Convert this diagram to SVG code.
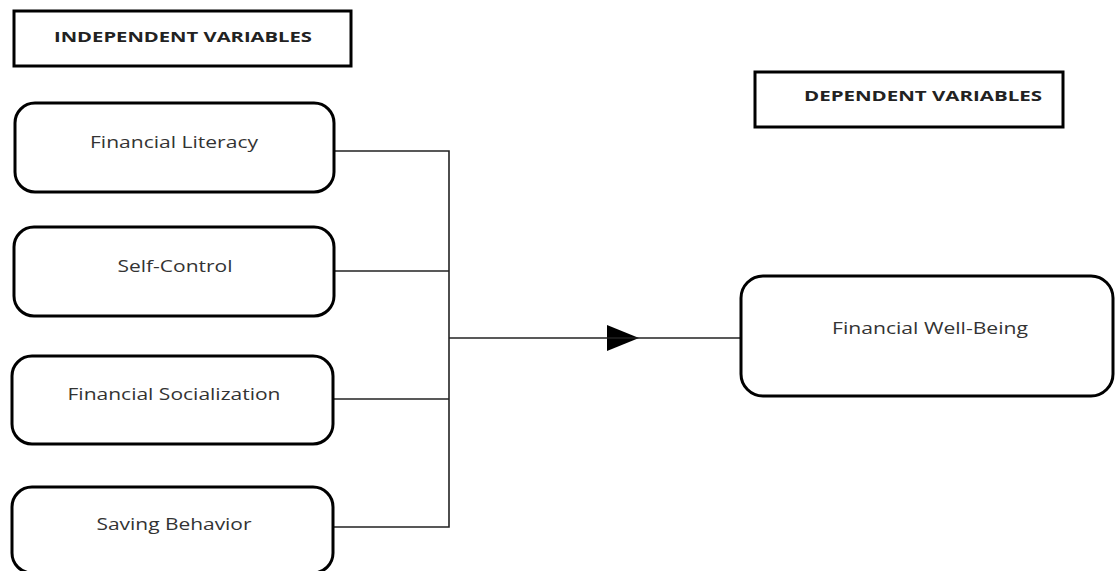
<svg xmlns="http://www.w3.org/2000/svg" width="1115" height="571" viewBox="0 0 1115 571">
<style>
.hdr{fill:#fff;stroke:#000;stroke-width:3}
.node{fill:#fff;stroke:#000;stroke-width:3}
.t{font-family:"Open Sans","Liberation Sans",sans-serif;font-size:16px;fill:#333;text-anchor:middle;dominant-baseline:central}
.h{font-family:"Open Sans","Liberation Sans",sans-serif;font-size:15px;font-weight:bold;fill:#222;text-anchor:middle;dominant-baseline:central}
.c{fill:none;stroke:#222;stroke-width:1.6}
</style>
<defs>
<marker id="ah" markerWidth="32" markerHeight="26" refX="0" refY="13" orient="auto" markerUnits="userSpaceOnUse">
<path d="M0,0 L32,13 L0,26 Z" fill="#000"/>
</marker>
</defs>
<rect width="1115" height="571" fill="#fff"/>
<g id="hdr-independent">
<rect class="hdr" x="14" y="11" width="337" height="55"/>
<text class="h" x="183" y="36" textLength="258" lengthAdjust="spacingAndGlyphs">INDEPENDENT VARIABLES</text>
</g>
<g id="hdr-dependent">
<rect class="hdr" x="755" y="72" width="308" height="55"/>
<text class="h" x="923" y="95" textLength="238" lengthAdjust="spacingAndGlyphs">DEPENDENT VARIABLES</text>
</g>
<g id="connectors">
<polyline class="c" points="334,151 449,151 449,527 333,527"/>
<line class="c" x1="334" y1="271" x2="449" y2="271"/>
<line class="c" x1="333" y1="399" x2="449" y2="399"/>
<line class="c" x1="449" y1="338" x2="607" y2="338" marker-end="url(#ah)"/>
<line class="c" x1="607" y1="338" x2="741" y2="338"/>
</g>
<g id="n-literacy">
<rect class="node" x="15" y="103" width="319" height="89" rx="20"/>
<text class="t" x="174" y="142" textLength="168" lengthAdjust="spacingAndGlyphs">Financial Literacy</text>
</g>
<g id="n-selfcontrol">
<rect class="node" x="14" y="227" width="320" height="89" rx="20"/>
<text class="t" x="175" y="266" textLength="115" lengthAdjust="spacingAndGlyphs">Self-Control</text>
</g>
<g id="n-socialization">
<rect class="node" x="12" y="356" width="321" height="88" rx="20"/>
<text class="t" x="174" y="394" textLength="213" lengthAdjust="spacingAndGlyphs">Financial Socialization</text>
</g>
<g id="n-saving">
<rect class="node" x="12" y="487" width="321" height="86" rx="20"/>
<text class="t" x="174" y="524" textLength="155" lengthAdjust="spacingAndGlyphs">Saving Behavior</text>
</g>
<g id="n-wellbeing">
<rect class="node" x="741" y="276" width="372" height="120" rx="22"/>
<text class="t" x="930" y="328" textLength="196" lengthAdjust="spacingAndGlyphs">Financial Well-Being</text>
</g>
</svg>
